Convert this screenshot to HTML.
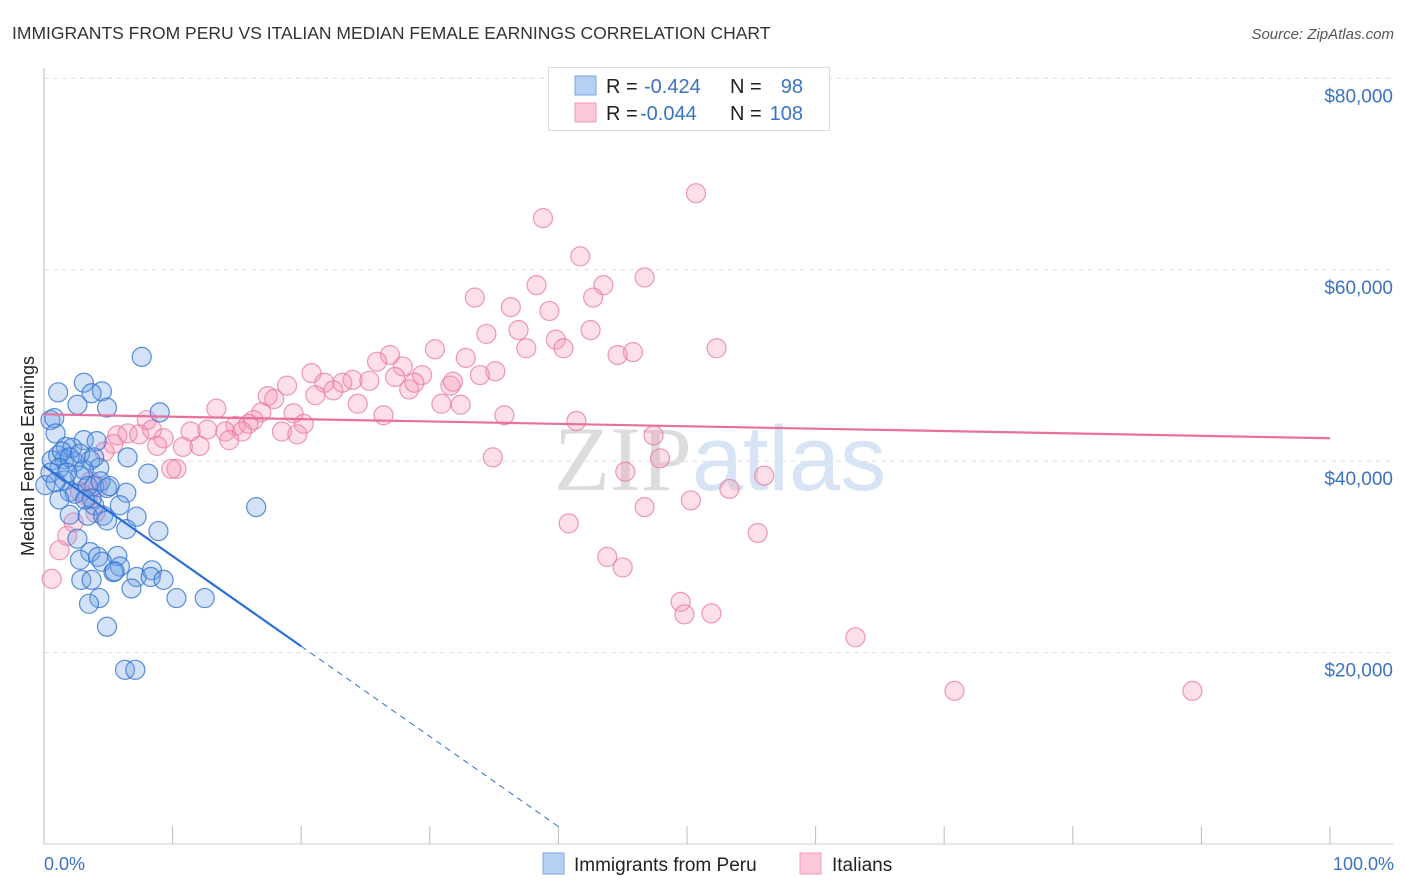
<!DOCTYPE html>
<html><head><meta charset="utf-8"><style>
body{margin:0;background:#fff;font-family:"Liberation Sans",sans-serif}
svg{display:block}
</style></head><body>
<svg id="chart" width="1406" height="892" viewBox="0 0 1406 892" xmlns="http://www.w3.org/2000/svg">
<text x="12" y="39" font-size="17.5" fill="#333">IMMIGRANTS FROM PERU VS ITALIAN MEDIAN FEMALE EARNINGS CORRELATION CHART</text>
<text x="1394" y="39" font-size="15" fill="#555" font-style="italic" text-anchor="end">Source: ZipAtlas.com</text>
<text x="720" y="490" font-size="92" fill="#e4e4e4" text-anchor="middle" font-family="Liberation Serif,serif"><tspan fill="#dcdcdc">ZIP</tspan><tspan fill="#d6e4f5" font-family="Liberation Sans,sans-serif">atlas</tspan></text>
<g id="grid"></g>
<g id="axes"></g>
<g id="pink"></g>
<g id="blue"></g>
<g id="lines"></g>
<text x="0" y="0" transform="translate(34,456) rotate(-90)" font-size="18" fill="#222" text-anchor="middle">Median Female Earnings</text>
<text x="44" y="870" font-size="18" fill="#3b73c4">0.0%</text>
<text x="1394" y="870" font-size="18" fill="#3b73c4" text-anchor="end">100.0%</text>
<g>
<rect x="548.5" y="67.5" width="281" height="63" fill="#fff" stroke="#ddd"/>
<rect x="575" y="76" width="21" height="19" fill="#b5d0f3" stroke="#7aa6e4"/>
<rect x="575" y="103" width="21" height="19" fill="#fbc8d7" stroke="#f09ab5"/>
<text x="606" y="93" font-size="20" fill="#222">R = </text><text x="644" y="93" font-size="20" fill="#3b73c4">-0.424</text>
<text x="730" y="93" font-size="20" fill="#222">N = </text><text x="803" y="93" font-size="20" fill="#3b73c4" text-anchor="end">98</text>
<text x="606" y="120" font-size="20" fill="#222">R = </text><text x="640" y="120" font-size="20" fill="#3b73c4">-0.044</text>
<text x="730" y="120" font-size="20" fill="#222">N = </text><text x="803" y="120" font-size="20" fill="#3b73c4" text-anchor="end">108</text>
</g>
<g>
<rect x="543" y="853" width="21" height="21" fill="#b5d0f3" stroke="#7aa6e4"/>
<text x="574" y="871" font-size="19" fill="#222">Immigrants from Peru</text>
<rect x="800" y="853" width="21" height="21" fill="#fbc8d7" stroke="#f09ab5"/>
<text x="832" y="871" font-size="19" fill="#222">Italians</text>
</g>
</svg>
<script>
const yTicks=[20000,40000,60000,80000];
const yTickLabels=["$20,000","$40,000","$60,000","$80,000"];
const xTickCount=10;
const pinkX=[50.7,38.8,41.7,46.7,38.3,43.5,42.7,33.5,36.3,39.3,36.9,42.5,34.4,39.8,37.5,40.4,52.3,30.4,45.8,44.6,26.9,32.8,25.9,27.9,20.8,35.1,33.9,29.4,27.3,24.0,23.2,25.3,21.8,18.9,31.6,28.4,28.8,31.8,17.4,21.1,22.5,17.9,24.4,30.9,32.4,13.4,16.9,19.4,26.4,35.8,16.3,8.0,41.4,20.2,14.9,15.9,12.7,14.1,11.4,18.5,6.5,5.7,7.4,8.4,9.3,15.4,19.7,14.4,47.4,5.4,12.1,8.8,10.8,4.7,34.9,47.9,10.3,9.9,45.2,56.0,53.3,3.6,4.2,2.8,3.4,50.3,46.7,4.0,2.3,40.8,55.5,1.8,1.2,43.8,45.0,0.6,49.5,49.8,51.9,63.1,70.8,89.3];
const pinkY=[68.0,65.4,61.4,59.2,58.4,58.4,57.1,57.1,56.1,55.7,53.7,53.7,53.3,52.7,51.8,51.8,51.8,51.7,51.4,51.1,51.1,50.8,50.4,49.9,49.2,49.4,49.0,49.0,48.8,48.5,48.2,48.4,48.2,47.9,47.9,47.5,48.2,48.3,46.8,46.9,47.4,46.5,46.0,46.0,45.9,45.5,45.1,45.0,44.8,44.8,44.3,44.3,44.2,43.9,43.7,43.9,43.3,43.1,43.1,43.1,42.9,42.7,42.8,43.3,42.4,43.1,42.8,42.2,42.7,41.8,41.6,41.6,41.5,41.0,40.4,40.3,39.2,39.2,38.9,38.5,37.1,37.9,37.3,36.8,36.2,35.9,35.2,34.6,33.6,33.5,32.5,32.2,30.7,30.0,28.9,27.7,25.3,24.0,24.1,21.6,16.0,16.0];
const blueX=[7.6,1.1,3.1,4.5,3.7,2.6,4.9,9.0,0.5,0.8,0.9,3.1,4.1,1.7,1.6,0.6,2.4,3.6,2.2,1.1,6.5,8.1,4.3,3.1,2.8,1.6,2.0,0.1,3.9,4.9,6.4,5.9,3.9,2.0,3.4,4.6,7.2,4.9,6.4,8.9,16.5,2.6,3.6,2.8,4.2,5.7,4.5,5.9,5.4,5.5,7.2,8.4,8.3,9.3,2.9,3.7,6.8,4.3,3.5,10.3,12.5,4.9,6.3,7.1,1.4,2.0,2.8,3.9,1.2,0.5,0.9,1.8,2.4,3.4,3.7,4.4,5.1,3.2,1.2];
const blueY=[50.9,47.2,48.2,47.3,47.1,45.9,45.6,45.1,44.3,44.5,42.9,42.2,42.1,41.5,40.2,40.1,39.9,40.1,41.4,40.6,40.4,38.7,39.3,39.1,38.5,38.0,36.8,37.5,37.4,37.2,36.7,35.4,35.4,34.4,34.3,34.3,34.2,33.8,32.9,32.7,35.2,31.9,30.5,29.7,30.0,30.1,29.5,29.0,28.4,28.5,27.9,28.6,27.9,27.6,27.6,27.6,26.7,25.7,25.1,25.7,25.7,22.7,18.2,18.2,41.0,40.4,40.8,40.4,39.3,38.8,37.8,38.8,36.6,37.4,36.1,37.9,37.4,36.0,36.0];
const blueTrend=[39.5,-0.942];
const pinkTrend=[44.9,-0.025];
const X0=44,X1=1330,YB=844,PXK=9.57;
const xs=p=>X0+p*(X1-X0)/100;
const ys=k=>YB-k*PXK;
const NS="http://www.w3.org/2000/svg";
function mk(tag,attrs,parent){const e=document.createElementNS(NS,tag);for(const k in attrs)e.setAttribute(k,attrs[k]);parent.appendChild(e);return e;}
const grid=document.getElementById('grid'),axes=document.getElementById('axes');
yTicks.forEach((v,i)=>{
  const y=ys(v/1000);
  const l=mk('line',{x1:X0,x2:1393,y1:y,y2:y,stroke:'#e0e0e0','stroke-dasharray':'5,4'},grid);
  
  
  const t=mk('text',{x:1393,y:y+24,'font-size':19,fill:'#3b73c4','text-anchor':'end'},axes);
  t.textContent=yTickLabels[i];
  
  
});
const la=mk('line',{x1:X0,x2:X0,y1:68,y2:YB,stroke:'#bbb'},axes);


const lb=mk('line',{x1:X0,x2:1393,y1:YB,y2:YB,stroke:'#ccc'},axes);


for(let i=1;i<=xTickCount;i++){
  const x=xs(i*100/xTickCount);
  const t=mk('line',{x1:x,x2:x,y1:826,y2:YB,stroke:'#bbb'},axes);
  
  
}
function dots(X,Y,g,fill,stroke,name){
  X.forEach((x,i)=>{
    const c=mk('circle',{cx:xs(x),cy:ys(Y[i]),r:9.5,fill:fill,stroke:stroke,'stroke-width':1.2},g);
    
    
  });
}
dots(pinkX,pinkY,document.getElementById('pink'),'rgba(245,150,180,0.3)','rgba(232,120,160,0.75)','point-italians');
dots(blueX,blueY,document.getElementById('blue'),'rgba(110,160,230,0.3)','rgba(50,115,210,0.8)','point-peru');
const lines=document.getElementById('lines');
const bl=mk('line',{x1:xs(0),y1:ys(blueTrend[0]),x2:xs(20),y2:ys(blueTrend[0]+blueTrend[1]*20),stroke:'#2a6fd6','stroke-width':2.2},lines);


const bd=mk('line',{x1:xs(20),y1:ys(blueTrend[0]+blueTrend[1]*20),x2:xs(40.1),y2:ys(blueTrend[0]+blueTrend[1]*40.1),stroke:'#2a6fd6','stroke-width':1,'stroke-dasharray':'6,5'},lines);


const pl=mk('line',{x1:xs(0),y1:ys(pinkTrend[0]),x2:xs(100),y2:ys(pinkTrend[0]+pinkTrend[1]*100),stroke:'#e8709a','stroke-width':2.2},lines);


</script>
</body></html>
